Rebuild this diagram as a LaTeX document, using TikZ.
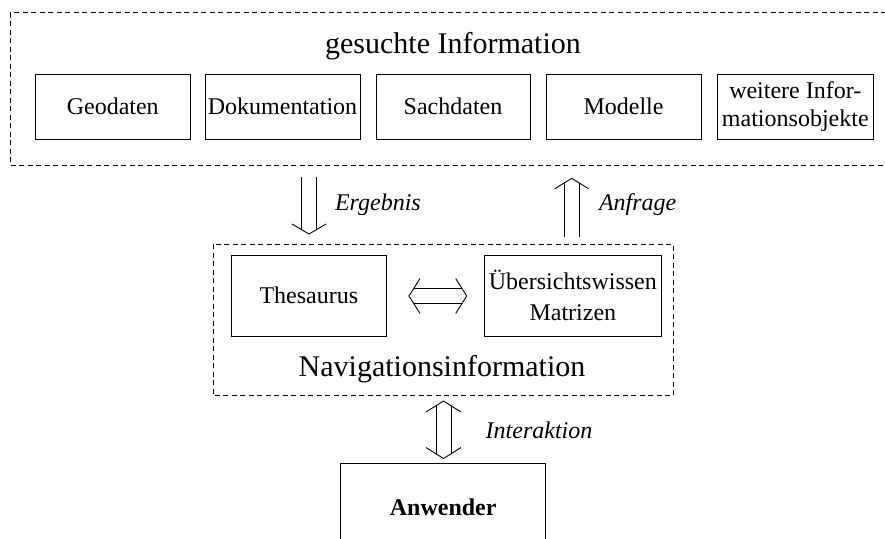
\documentclass[tikz,border=0pt]{standalone}
\usepackage{fontspec}
\setmainfont{Liberation Serif}
\begin{document}
\begin{tikzpicture}[x=1pt,y=-1pt,
  every node/.style={inner sep=0pt, outer sep=0pt},
  box/.style={draw, line width=0.9pt, align=center, font=\fontsize{24}{28}\selectfont},
  dbox/.style={draw, line width=0.8pt, dash pattern=on 5pt off 3.5pt},
  title/.style={font=\fontsize{30}{34}\selectfont, anchor=base},
  lab/.style={font=\fontsize{24}{28}\selectfont\itshape, anchor=west},
  arr/.style={line width=0.9pt}]
\useasboundingbox (0,0) rectangle (885,538);
\clip (0,0) rectangle (885,538);
% outer dashed frame
\draw[dbox] (10,12.7) rectangle (895,165);
\node[title] (t1) at (453,53.5) {gesuchte Information};
\node[box, minimum width=154.5pt, minimum height=65pt] (geo) at (112.75,106.5) {Geodaten};
\node[box, minimum width=155pt, minimum height=65pt] (dok) at (282.5,106.5) {Dokumentation};
\node[box, minimum width=154pt, minimum height=65pt] (sach) at (453,106.5) {Sachdaten};
\node[box, minimum width=155pt, minimum height=65pt] (mod) at (623.5,106.5) {Modelle};
\node[box, minimum width=156pt, minimum height=65pt] (weit) at (795.3,106.5) {weitere Infor-\\mationsobjekte};
% inner dashed frame
\draw[dbox] (213.3,244.3) rectangle (673.3,395.7);
\node[box, minimum width=154.3pt, minimum height=81pt] (thes) at (308.85,295.5) {Thesaurus};
\node[box, minimum width=177.7pt, minimum height=81pt, font=\fontsize{24}{31.5}\selectfont] (uebs) at (572.85,295.5) {Übersichtswissen\\Matrizen};
\node[title] (t2) at (442,376.5) {Navigationsinformation};
% user box
\node[box, minimum width=205pt, minimum height=88pt, font=\fontsize{24}{28}\selectfont\bfseries] (anw) at (443.2,507.3) {Anwender};
% Ergebnis arrow (down)
\coordinate (ergT) at (309,234);
\coordinate (ergS) at (309,176.7);
\draw[arr] ([xshift=-7.5pt]ergS) -- ([shift={(-7.5,-4.4)}]ergT);
\draw[arr] ([xshift=7.5pt]ergS) -- ([shift={(7.5,-4.4)}]ergT);
\draw[arr] ([shift={(-17,-10)}]ergT) -- (ergT) -- ([shift={(17,-10)}]ergT);
\node[lab] (erg) at (335,205) {Ergebnis};
% Anfrage arrow (up)
\coordinate (anfT) at (571.7,178.3);
\coordinate (anfS) at (571.7,236.7);
\draw[arr] ([xshift=-7.5pt]anfS) -- ([shift={(-7.5,4.6)}]anfT);
\draw[arr] ([xshift=7.5pt]anfS) -- ([shift={(7.5,4.6)}]anfT);
\draw[arr] ([shift={(-17,10.5)}]anfT) -- (anfT) -- ([shift={(17,10.5)}]anfT);
\node[lab] (anf) at (599,205) {Anfrage};
% horizontal double arrow
\coordinate (hL) at (409,296);
\coordinate (hR) at (466.7,296);
\draw[arr] ([shift={(4.9,-7.5)}]hL) -- ([shift={(-4.9,-7.5)}]hR);
\draw[arr] ([shift={(4.9,7.5)}]hL) -- ([shift={(-4.9,7.5)}]hR);
\draw[arr] ([shift={(11,-17.5)}]hL) -- (hL) -- ([shift={(11,17.5)}]hL);
\draw[arr] ([shift={(-11,-17.5)}]hR) -- (hR) -- ([shift={(-11,17.5)}]hR);
% Interaktion arrow (both)
\coordinate (iT) at (443.5,401);
\coordinate (iB) at (443.5,458.5);
\draw[arr] ([shift={(-7.5,4.8)}]iT) -- ([shift={(-7.5,-4.8)}]iB);
\draw[arr] ([shift={(7.5,4.8)}]iT) -- ([shift={(7.5,-4.8)}]iB);
\draw[arr] ([shift={(-17.5,11)}]iT) -- (iT) -- ([shift={(17.5,11)}]iT);
\draw[arr] ([shift={(-17.5,-11)}]iB) -- (iB) -- ([shift={(17.5,-11)}]iB);
\node[lab] (inter) at (485.7,430) {Interaktion};
\end{tikzpicture}
\end{document}
